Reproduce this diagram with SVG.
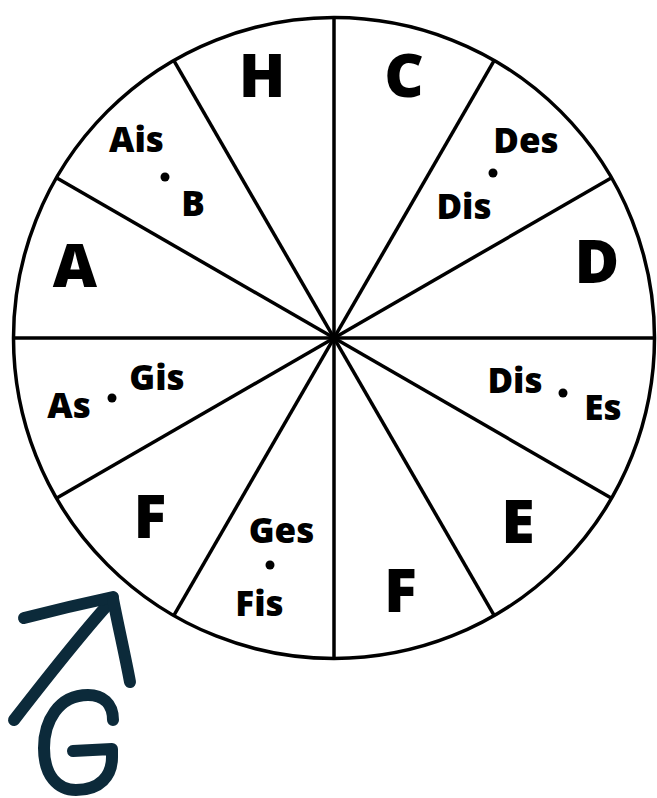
<svg xmlns="http://www.w3.org/2000/svg" width="657" height="798" viewBox="0 0 657 798">
<style>
.ln{stroke:#000;stroke-width:3.5;fill:none}
.big{font-family:"Open Sans","Liberation Sans",sans-serif;font-weight:800;font-size:61px;fill:#000;text-anchor:middle}
.sm{font-family:"Open Sans","Liberation Sans",sans-serif;font-weight:800;font-size:35px;fill:#000;text-anchor:middle}
.hand{stroke:#0c2a3a;stroke-width:12;fill:none;stroke-linecap:round;stroke-linejoin:round}
</style>
<rect width="657" height="798" fill="#fff"/>
<g id="wheel">
<circle class="ln" cx="334" cy="338" r="320.5"/>
</g>
<g id="connectors">
<line class="ln" x1="334" y1="17.5" x2="334" y2="658.5"/>
<line class="ln" x1="13.5" y1="338" x2="654.5" y2="338"/>
<line class="ln" x1="173.75" y1="60.4" x2="494.25" y2="615.6"/>
<line class="ln" x1="494.25" y1="60.4" x2="173.75" y2="615.6"/>
<line class="ln" x1="56.4" y1="177.75" x2="611.6" y2="498.25"/>
<line class="ln" x1="611.6" y1="177.75" x2="56.4" y2="498.25"/>
</g>
<g id="n-H"><text class="big" x="262" y="97">H</text></g>
<g id="n-C"><text class="big" x="404" y="97">C</text></g>
<g id="n-CisDes"><text class="sm" x="526" y="153">Des</text><circle cx="493" cy="173" r="4.5"/><text class="sm" x="464" y="219">Dis</text></g>
<g id="n-D"><text class="big" x="597" y="283">D</text></g>
<g id="n-DisEs"><text class="sm" x="515" y="393">Dis</text><circle cx="563" cy="393" r="4.5"/><text class="sm" x="603" y="420">Es</text></g>
<g id="n-E"><text class="big" x="518" y="543">E</text></g>
<g id="n-F2"><text class="big" x="400.5" y="612">F</text></g>
<g id="n-FisGes"><text class="sm" x="281.5" y="543">Ges</text><circle cx="270" cy="565" r="4.5"/><text class="sm" x="259.5" y="616">Fis</text></g>
<g id="n-F1"><text class="big" x="150" y="538">F</text></g>
<g id="n-GisAs"><text class="sm" x="157" y="390">Gis</text><circle cx="112" cy="398" r="4.5"/><text class="sm" x="69" y="418">As</text></g>
<g id="n-A"><text class="big" x="75" y="287">A</text></g>
<g id="n-AisB"><text class="sm" x="136.5" y="152">Ais</text><circle cx="165" cy="177" r="4.5"/><text class="sm" x="193" y="216">B</text></g>
<g id="annotation">
<path class="hand" d="M14,720 C45,680 80,635 112,600"/>
<path class="hand" d="M24,618 C55,610 85,603 113,597"/>
<path class="hand" d="M113,599 C118,625 125,655 130,682"/>
<path class="hand" d="M113,720 C113,703 102,695 88,695 C58,695 44,722 44,748 C44,776 58,790 76,790 C100,790 112,776 112,757 L112,749 L73,751"/>
</g>
</svg>
